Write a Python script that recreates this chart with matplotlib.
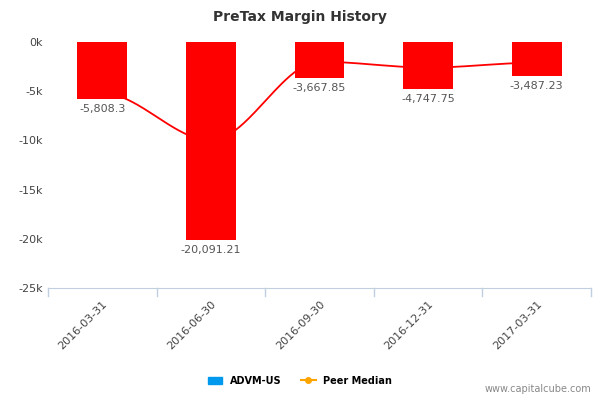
import numpy as np
import matplotlib
matplotlib.use('Agg')
import matplotlib.pyplot as plt
from matplotlib.lines import Line2D
import matplotlib.patches as mpatches

dates = ['2016-03-31', '2016-06-30', '2016-09-30', '2016-12-31', '2017-03-31']
company = [-5808.3, -20091.21, -3667.85, -4747.75, -3487.23]
labels = ['-5,808.3', '-20,091.21', '-3,667.85', '-4,747.75', '-3,487.23']
peer = [-5200, -10000, -2000, -2600, -2100]

fig = plt.figure(figsize=(6, 4), dpi=100)
ax = fig.add_axes([0.08, 0.28, 0.905, 0.615])

x = np.arange(len(dates))
ax.bar(x, company, width=0.46, color='#ff0000', zorder=2)
for xi, v, t in zip(x, company, labels):
    ax.text(xi, v - 500, t, ha='center', va='top', fontsize=8, color='#555555')

# smooth peer median line
xs = np.linspace(0, len(dates) - 1, 200)
ys = np.zeros_like(xs)
for i in range(len(dates) - 1):
    m = (xs >= i) & (xs <= i + 1)
    t = xs[m] - i
    s = t * t * (3 - 2 * t)
    ys[m] = peer[i] + (peer[i + 1] - peer[i]) * s
ax.plot(xs, ys, color='#ff0000', lw=1.3, zorder=1)

ax.set_xlim(-0.5, len(dates) - 0.5)
ax.set_ylim(-25000, 0)
ax.set_yticks([0, -5000, -10000, -15000, -20000, -25000])
ax.set_yticklabels(['0k', '-5k', '-10k', '-15k', '-20k', '-25k'], fontsize=8, color='#444444')
ax.set_xticks(x)
ax.set_xticklabels(dates, rotation=45, ha='right', rotation_mode='anchor', fontsize=8, color='#444444')
ax.tick_params(axis='x', length=0, pad=8)
ax.tick_params(axis='y', length=0)
for xb in np.arange(-0.5, len(dates), 1):
    ax.plot([xb, xb], [-25000, -25800], color='#c0d0e0', lw=1, clip_on=False)
for s in ['top', 'right', 'left']:
    ax.spines[s].set_visible(False)
ax.spines['bottom'].set_color('#c0d0e0')

fig.suptitle('PreTax Margin History', y=0.975, fontsize=10, fontweight='bold', color='#333333')

handles = [mpatches.Patch(color='#0099ee', label='ADVM-US'),
           Line2D([0], [0], color='#ffa500', marker='o', markersize=4, label='Peer Median')]
fig.legend(handles=handles, loc='center', bbox_to_anchor=(0.5, 0.048), ncol=2, frameon=False,
           prop={'size': 7, 'weight': 'bold'}, handlelength=1.5)
fig.text(0.985, 0.02, 'www.capitalcube.com', ha='right', fontsize=7, color='#888888')

fig.savefig('out.png', dpi=100)
